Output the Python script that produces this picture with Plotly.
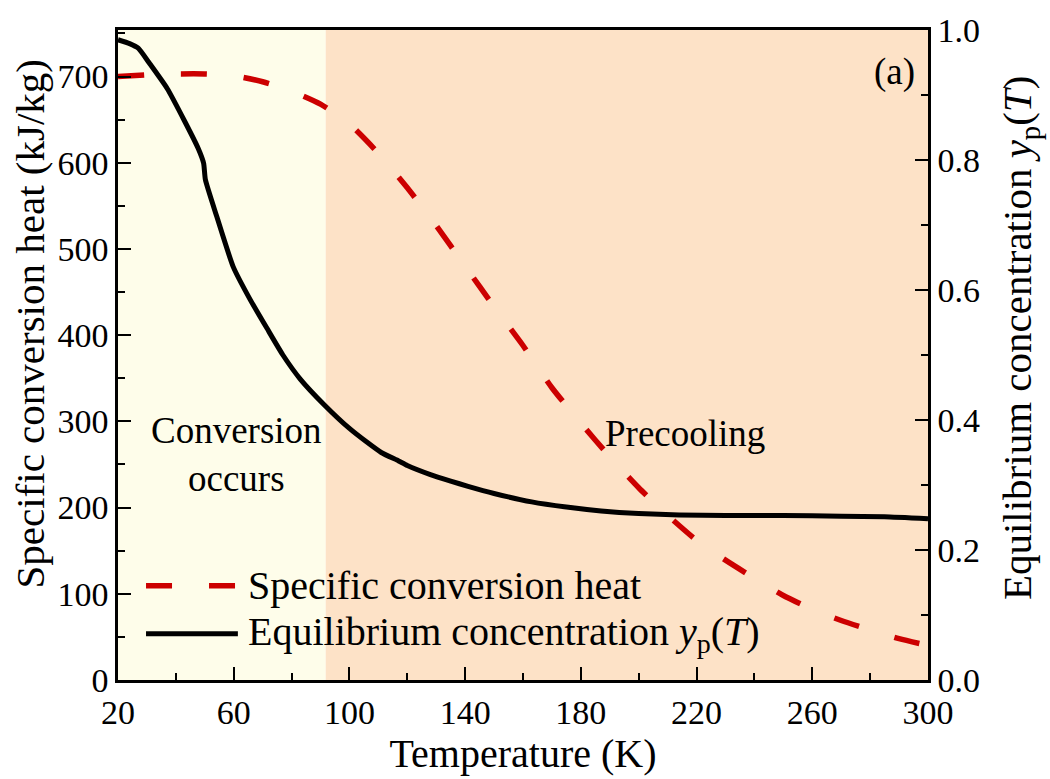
import plotly.graph_objects as go

# ---- data ----
temp_heat = [20, 30, 40, 50, 60, 70, 80, 90, 100, 110, 120, 130, 140, 150, 160,
             170, 180, 190, 200, 210, 220, 230, 240, 250, 260, 270, 280, 290, 300]
heat = [700, 702, 703, 703, 701, 694, 683, 668, 645, 611, 571, 527, 480, 433, 388,
        339, 298, 259, 223, 191, 162, 139, 118, 98, 82, 69, 58, 48, 40]

temp_yp = [20, 24, 27, 31, 37, 43, 47.7, 49.6, 50.2, 54, 59.8, 65.6, 71.5, 77, 83,
           91.6, 100, 106, 111, 117, 120, 128, 135, 141, 150, 163, 175, 187, 200, 214,
           230, 250, 270, 285, 300]
yp = [0.985, 0.979, 0.972, 0.948, 0.910, 0.860, 0.818, 0.795, 0.770, 0.715, 0.636,
      0.586, 0.541, 0.500, 0.463, 0.422, 0.387, 0.366, 0.350, 0.337, 0.330, 0.316, 0.306,
      0.298, 0.287, 0.274, 0.266, 0.260, 0.256, 0.254, 0.253, 0.253, 0.252, 0.251,
      0.248]

boundary_T = 91.8
x_range = [20, 300]
heat_range = [0, 754]
yp_range = [0, 1.0]

FONT = "Liberation Serif, Times New Roman, serif"
RED = "#CC0000"

fig = go.Figure()

fig.add_trace(go.Scatter(x=temp_heat, y=heat, mode="lines", name="Specific conversion heat",
                         line=dict(color=RED, width=5.5, dash="26px,37px", shape="spline",
                                   smoothing=0.6),
                         showlegend=False, yaxis="y"))
fig.add_trace(go.Scatter(x=temp_yp, y=yp, mode="lines",
                         name="Equilibrium concentration y_p(T)",
                         line=dict(color="black", width=5, shape="spline", smoothing=0.5),
                         showlegend=False, yaxis="y2"))

# background regions
fig.add_shape(type="rect", xref="x", yref="paper", x0=x_range[0], x1=boundary_T,
              y0=0, y1=1, fillcolor="#FEFDEA", line_width=0, layer="below")
fig.add_shape(type="rect", xref="x", yref="paper", x0=boundary_T, x1=x_range[1],
              y0=0, y1=1, fillcolor="#FDE2C7", line_width=0, layer="below")

# custom legend
fig.add_shape(type="line", xref="paper", yref="paper", x0=0.0346, x1=0.148,
              y0=0.145, y1=0.145, line=dict(color=RED, width=5.5, dash="26px,37px"))
fig.add_shape(type="line", xref="paper", yref="paper", x0=0.0346, x1=0.148,
              y0=0.071, y1=0.071, line=dict(color="black", width=5))
fig.add_annotation(xref="paper", yref="paper", x=0.158, y=0.145, xanchor="left",
                   yanchor="middle", showarrow=False, text="Specific conversion heat",
                   font=dict(family=FONT, size=40, color="black"))
fig.add_annotation(xref="paper", yref="paper", x=0.158, y=0.071, xanchor="left",
                   yanchor="middle", showarrow=False,
                   text="Equilibrium concentration <i>y</i><sub>p</sub>(<i>T</i>)",
                   font=dict(family=FONT, size=40, color="black"))

fig.add_annotation(xref="paper", yref="paper", x=0.146, y=0.347, xanchor="center",
                   yanchor="middle", showarrow=False,
                   text="Conversion<br>occurs", font=dict(family=FONT, size=37, color="black"))
fig.add_annotation(xref="paper", yref="paper", x=0.70, y=0.379, xanchor="center",
                   yanchor="middle", showarrow=False,
                   text="Precooling", font=dict(family=FONT, size=37, color="black"))
fig.add_annotation(xref="paper", yref="paper", x=0.959, y=0.936, xanchor="center",
                   yanchor="middle", showarrow=False,
                   text="(a)", font=dict(family=FONT, size=37, color="black"))

# axis titles (as annotations to match their placement)
fig.add_annotation(xref="paper", yref="paper", x=-0.1086, y=0.547, xanchor="center",
                   yanchor="middle", showarrow=False, textangle=-90,
                   text="Specific conversion heat (kJ/kg)",
                   font=dict(family=FONT, size=41, color="black"))
fig.add_annotation(xref="paper", yref="paper", x=1.1136, y=0.526, xanchor="center",
                   yanchor="middle", showarrow=False, textangle=-90,
                   text="Equilibrium concentration <i>y</i><sub>p</sub>(<i>T</i>)",
                   font=dict(family=FONT, size=41, color="black"))

axis_common = dict(showline=True, linecolor="black", linewidth=2.5, ticks="inside",
                   ticklen=13, tickwidth=2, tickcolor="black", showgrid=False,
                   zeroline=False, tickfont=dict(family=FONT, size=34, color="black"))

fig.update_layout(
    width=1050, height=779,
    margin=dict(l=118, r=122, t=20, b=99),
    paper_bgcolor="white", plot_bgcolor="white",
    font=dict(family=FONT, color="black"),
    xaxis=dict(range=x_range, tick0=20, dtick=40, mirror=True,
               minor=dict(ticks="inside", dtick=20, ticklen=7, tickwidth=2, tickcolor="black"),
               title=dict(text="Temperature (K)", font=dict(family=FONT, size=40), standoff=6),
               **axis_common),
    yaxis=dict(range=heat_range, tick0=0, dtick=100,
               minor=dict(ticks="inside", dtick=50, ticklen=7, tickwidth=2, tickcolor="black"),
               **axis_common),
    yaxis2=dict(range=yp_range, overlaying="y", side="right", tick0=0, dtick=0.2,
                tickformat=".1f",
                minor=dict(ticks="inside", dtick=0.1, ticklen=7, tickwidth=2, tickcolor="black"),
                **axis_common),
)

fig.write_html("out.html")
